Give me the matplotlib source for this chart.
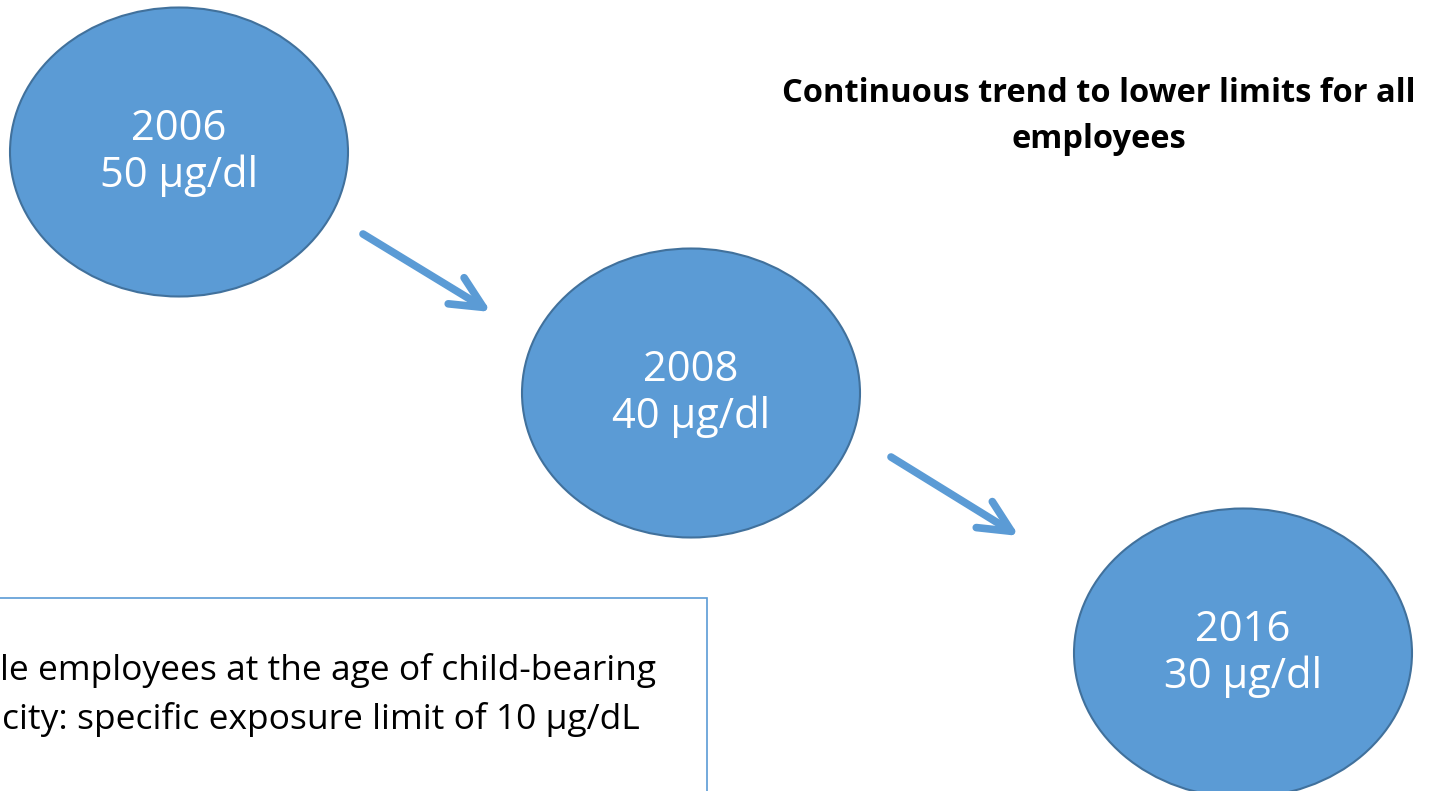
import matplotlib
matplotlib.use('Agg')
import matplotlib.pyplot as plt
from matplotlib.patches import Ellipse, Rectangle

# 데이터
years = ['2006', '2008', '2016']
limits = ['50 µg/dl', '40 µg/dl', '30 µg/dl']
title_lines = ['Continuous trend to lower limits for all', 'employees']
note_lines = ['le employees at the age of child-bearing',
              'city: specific exposure limit of 10 µg/dL']

# 배치 (픽셀 좌표)
centers = [(179, 152), (691, 393), (1243, 653)]
ell_w, ell_h = 338, 289
arrows = [((363, 234), (491, 312)), ((891, 457), (1019, 536))]

fill_c = '#5B9BD5'
edge_c = '#41719C'

plt.rcParams['font.family'] = ['Open Sans', 'DejaVu Sans']

fig = plt.figure(figsize=(14.35, 7.91), dpi=100)
ax = fig.add_axes([0, 0, 1, 1])
ax.set_xlim(0, 1435)
ax.set_ylim(791, 0)
ax.axis('off')

# 원
for (cx, cy), yr, lim in zip(centers, years, limits):
    ax.add_patch(Ellipse((cx, cy), ell_w, ell_h, facecolor=fill_c,
                         edgecolor=edge_c, linewidth=1.5))
    ax.text(cx, cy - 23, yr, color='white', fontsize=30, ha='center', va='center')
    ax.text(cx, cy + 24, lim, color='white', fontsize=30, ha='center', va='center')

# 화살표
for (p0, p1) in arrows:
    ax.annotate('', xy=p1, xytext=p0,
                arrowprops=dict(arrowstyle='->,head_length=2.3,head_width=1.1',
                                color=fill_c, lw=5.5, capstyle='round',
                                joinstyle='round', shrinkA=0, shrinkB=0))

# 제목
ax.text(1099, 93, title_lines[0], fontsize=23.5, fontweight='bold', ha='center', va='center')
ax.text(1099, 140, title_lines[1], fontsize=23.5, fontweight='bold', ha='center', va='center')

# 설명 상자
ax.add_patch(Rectangle((-10, 598), 717, 220, facecolor='white', edgecolor=fill_c, linewidth=1.2))
ax.text(0, 680, note_lines[0], fontsize=25.5, ha='left', va='baseline')
ax.text(2, 729, note_lines[1], fontsize=25.5, ha='left', va='baseline')

plt.savefig('out.png', dpi=100)
